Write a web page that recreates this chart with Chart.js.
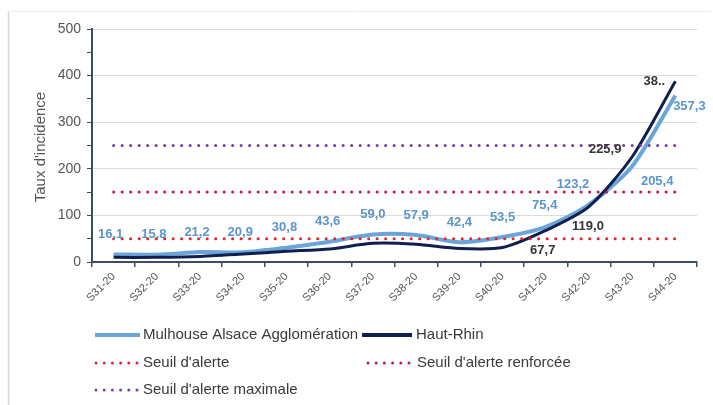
<!DOCTYPE html>
<html>
<head>
<meta charset="utf-8">
<script src="https://cdn.jsdelivr.net/npm/chart.js@4/dist/chart.umd.min.js"></script>
<style>
  html, body { margin: 0; padding: 0; background: #fff; }
  canvas { display: block; }
</style>
</head>
<body>
<canvas id="c" width="713" height="405"></canvas>
<script>
// ---- Data ----
const categories = ['S31-20','S32-20','S33-20','S34-20','S35-20','S36-20','S37-20','S38-20','S39-20','S40-20','S41-20','S42-20','S43-20','S44-20'];
const mulhouse = [16.1, 15.8, 21.2, 20.9, 30.8, 43.6, 59.0, 57.9, 42.4, 53.5, 75.4, 123.2, 205.4, 357.3];
const hautRhin = [10, 10, 12, 17, 23, 28, 40, 38, 29, 31, 67.7, 119.0, 225.9, 388];
const seuilAlerte = [50, 50, 50, 50, 50, 50, 50, 50, 50, 50, 50, 50, 50, 50];
const seuilRenforce = [150, 150, 150, 150, 150, 150, 150, 150, 150, 150, 150, 150, 150, 150];
const seuilMaximal = [250, 250, 250, 250, 250, 250, 250, 250, 250, 250, 250, 250, 250, 250];
const yTicks = [0, 100, 200, 300, 400, 500];
const yTitle = "Taux d'incidence";

// ---- Styles ----
const C_MUL = '#6aa5d9';
const C_HR = '#111f4f';
const C_ALERTE = '#e32530';
const C_RENF = '#c91a50';
const C_MAX = '#7a3ea3';
const C_AXIS = '#3b4c6b';
const FONT = '"Liberation Sans", Arial, sans-serif';

const fmt = v => v.toFixed(1).replace('.', ',');

// label placement (pixel offsets relative to point), style only
const mulOffsets = [[-3,-20],[-3,-20],[-3,-20],[-3,-20],[-2,-20],[-2,-20],[0,-20],[0,-20],[0,-20],[0,-20],[-1,-21],[-16,-20],[25,15],[14,11]];
const hrShow = [false,false,false,false,false,false,false,false,false,false,true,true,true,true];
const hrOffsets = {10:[-3,20], 11:[-1,20], 12:[-27,-7], 13:[-21,0]};
const hrTruncate = {13:true};

const labelPlugin = {
  id: 'labels',
  afterDatasetsDraw(chart) {
    const ctx = chart.ctx;
    ctx.save();
    ctx.font = 'bold 13px ' + FONT;
    ctx.textAlign = 'center';
    ctx.textBaseline = 'middle';
    const mMeta = chart.getDatasetMeta(0);
    mMeta.data.forEach((pt, i) => {
      const o = mulOffsets[i];
      ctx.fillStyle = '#5c95cc';
      ctx.fillText(fmt(mulhouse[i]), pt.x + o[0], pt.y + o[1]);
    });
    const hMeta = chart.getDatasetMeta(1);
    hMeta.data.forEach((pt, i) => {
      if (!hrShow[i]) return;
      const o = hrOffsets[i];
      let t = fmt(hautRhin[i]);
      if (hrTruncate[i]) t = t.slice(0, 2) + '..';
      ctx.fillStyle = '#353535';
      ctx.fillText(t, pt.x + o[0], pt.y + o[1]);
    });
    ctx.restore();
  },
  afterDraw(chart) {
    const ctx = chart.ctx;
    ctx.save();
    // frame
    ctx.strokeStyle = '#d6d6d6';
    ctx.lineWidth = 1.5;
    ctx.beginPath(); ctx.moveTo(8.5, 11); ctx.lineTo(8.5, 405); ctx.stroke();
    ctx.strokeStyle = '#ececec';
    ctx.lineWidth = 1;
    ctx.beginPath(); ctx.moveTo(8, 11.5); ctx.lineTo(711, 11.5); ctx.stroke();
    // y title
    ctx.fillStyle = '#555555';
    ctx.font = '15px ' + FONT;
    ctx.textAlign = 'center';
    ctx.textBaseline = 'middle';
    ctx.translate(41, 147);
    ctx.rotate(-Math.PI / 2);
    ctx.fillText(yTitle, 0, 0);
    ctx.restore();

    // legend
    ctx.save();
    ctx.font = '15px ' + FONT;
    ctx.textBaseline = 'middle';
    ctx.textAlign = 'left';
    const ds = chart.data.datasets;
    const entries = [
      {i:0, x1:95, x2:140, y:335, tx:143, dots:false},
      {i:1, x1:362, x2:412, y:335, tx:416, dots:false},
      {i:2, x1:96, x2:137, y:363, tx:143, dots:true},
      {i:3, x1:368, x2:409, y:363, tx:417, dots:true},
      {i:4, x1:96, x2:137, y:390, tx:143, dots:true},
    ];
    entries.forEach(e => {
      const d = ds[e.i];
      ctx.strokeStyle = d.borderColor;
      if (e.dots) {
        ctx.fillStyle = d.borderColor;
        const n = 6;
        for (let k = 0; k < n; k++) {
          const x = e.x1 + k * (e.x2 - e.x1) / (n - 1);
          ctx.beginPath(); ctx.arc(x, e.y, 1.5, 0, Math.PI * 2); ctx.fill();
        }
      } else {
        ctx.lineWidth = 4;
        ctx.lineCap = 'butt';
        ctx.beginPath(); ctx.moveTo(e.x1, e.y); ctx.lineTo(e.x2, e.y); ctx.stroke();
      }
      ctx.fillStyle = '#3a3a3a';
      ctx.fillText(d.label, e.tx, e.y);
    });
    ctx.restore();
  }
};

const dotted = (label, data, color) => ({
  label, data,
  borderColor: color, backgroundColor: color,
  borderWidth: 3, borderDash: [0.1, 8.4], borderCapStyle: 'round',
  pointRadius: 0, tension: 0, order: -1
});

new Chart(document.getElementById('c'), {
  type: 'line',
  data: {
    labels: categories,
    datasets: [
      { label: 'Mulhouse Alsace Agglomération', data: mulhouse, borderColor: C_MUL, backgroundColor: C_MUL,
        borderWidth: 4, pointRadius: 0, tension: 0.25, order: 1 },
      { label: 'Haut-Rhin', data: hautRhin, borderColor: C_HR, backgroundColor: C_HR,
        borderWidth: 3, pointRadius: 0, tension: 0.25, order: 0 },
      dotted("Seuil d'alerte", seuilAlerte, C_ALERTE),
      dotted("Seuil d'alerte renforcée", seuilRenforce, C_RENF),
      dotted("Seuil d'alerte maximale", seuilMaximal, C_MAX)
    ]
  },
  options: {
    responsive: false,
    animation: false,
    devicePixelRatio: 1,
    layout: { padding: { top: 29, right: 16, left: 0, bottom: 0 } },
    plugins: { legend: { display: false }, tooltip: { enabled: false } },
    scales: {
      x: {
        offset: true,
        grid: { offset: true, drawOnChartArea: false, drawTicks: true, tickLength: 5, tickColor: C_AXIS, lineWidth: 1.5 },
        border: { color: C_AXIS, width: 2 },
        ticks: { color: '#555555', font: { family: FONT, size: 11 }, minRotation: 45, maxRotation: 45, autoSkip: false, padding: 3 },
        afterFit(s) { s.height = 143; }
      },
      y: {
        min: 0, max: 500,
        afterBuildTicks(s) {
          const t = [];
          for (let v = 0; v <= 500; v += 50) t.push({ value: v });
          s.ticks = t;
        },
        grid: {
          color: c => (c.tick && c.tick.value % 100 === 0 && c.tick.value !== 0) ? '#dcdcdc' : 'rgba(0,0,0,0)',
          tickColor: C_AXIS, tickLength: 5, lineWidth: 1
        },
        border: { color: C_AXIS, width: 2 },
        ticks: {
          color: '#555555', font: { family: FONT, size: 14 }, padding: 6,
          callback: v => yTicks.includes(v) ? String(v) : ''
        },
        afterFit(s) { s.width = 92; }
      }
    }
  },
  plugins: [labelPlugin]
});
</script>
</body>
</html>
